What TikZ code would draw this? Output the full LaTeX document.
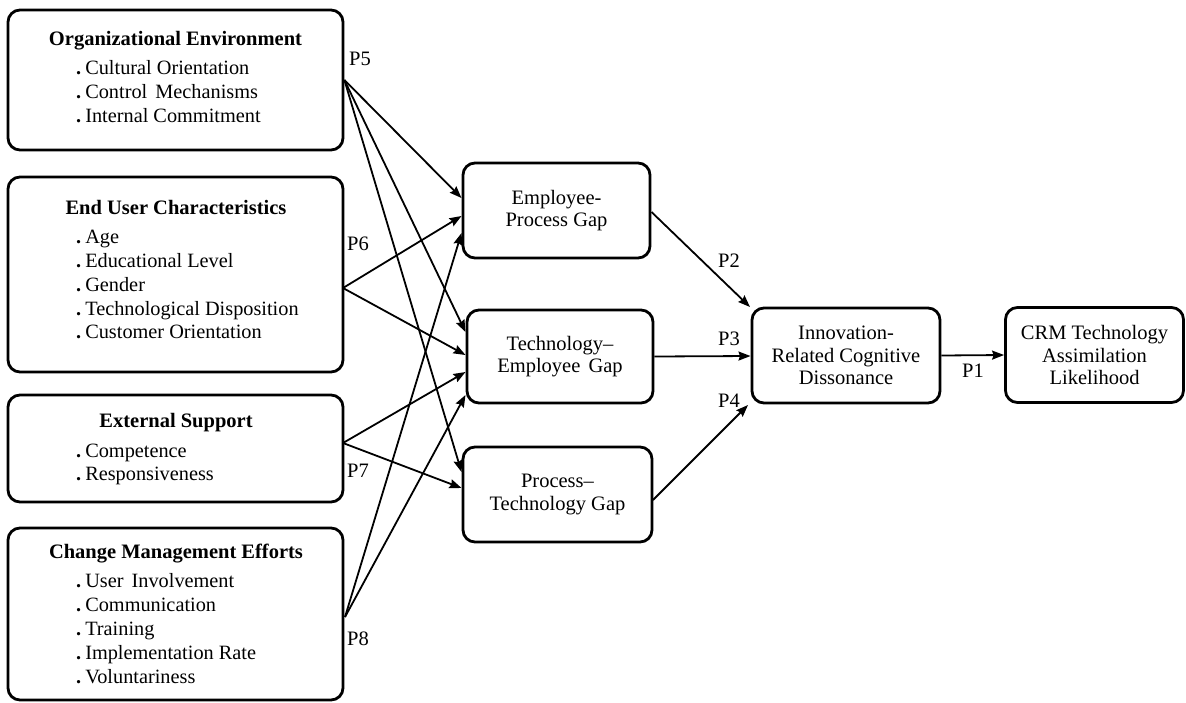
\documentclass[tikz,border=0pt]{standalone}
\usepackage{fontspec}
\setmainfont{Liberation Serif}
\usetikzlibrary{arrows.meta}
\begin{document}
\begin{tikzpicture}[x=1pt,y=-1pt,
 box/.style={draw,line width=2.8pt,rounded corners=12pt,inner sep=0pt},
 txt/.style={font=\fontsize{20.5}{22.5}\selectfont,align=center},
 ttl/.style={font=\fontsize{20.5}{24}\selectfont\bfseries,anchor=base,inner sep=0pt},
 itm/.style={font=\fontsize{20.3}{24}\selectfont,anchor=base west,inner sep=0pt},
 lab/.style={font=\fontsize{20.5}{24}\selectfont,anchor=base west,inner sep=0pt},
 arr/.style={line width=1.8pt,-{Stealth[length=12pt,width=9pt,inset=1.5pt]}},
]
\useasboundingbox (0,0) rectangle (1186,702);
\fill[white] (0,0) rectangle (1186,702);

% left boxes
\node[box,minimum width=335pt,minimum height=140pt] (org) at (175.5,80) {};
\node[box,minimum width=335pt,minimum height=195pt] (eu) at (175.5,274.5) {};
\node[box,minimum width=335pt,minimum height=107pt] (ext) at (175.5,448.5) {};
\node[box,minimum width=335pt,minimum height=172pt] (cm) at (175.5,614) {};

% left box texts
\node[ttl] (orgT) at (175.5,45) {Organizational Environment};
\node[itm] (org1) at (76,74) {\textbf{.}\hspace{4pt}Cultural Orientation};
\node[itm] (org2) at (76,98) {\textbf{.}\hspace{4pt}Control\hspace{3pt} Mechanisms};
\node[itm] (org3) at (76,122) {\textbf{.}\hspace{4pt}Internal Commitment};

\node[ttl] (euT) at (176,214) {End User Characteristics};
\node[itm] (eu1) at (76,243) {\textbf{.}\hspace{4pt}Age};
\node[itm] (eu2) at (76,267) {\textbf{.}\hspace{4pt}Educational Level};
\node[itm] (eu3) at (76,291) {\textbf{.}\hspace{4pt}Gender};
\node[itm] (eu4) at (76,315) {\textbf{.}\hspace{4pt}Technological Disposition};
\node[itm] (eu5) at (76,338) {\textbf{.}\hspace{4pt}Customer Orientation};

\node[ttl] (extT) at (176,427) {External Support};
\node[itm] (ext1) at (76,457) {\textbf{.}\hspace{4pt}Competence};
\node[itm] (ext2) at (76,480) {\textbf{.}\hspace{4pt}Responsiveness};

\node[ttl] (cmT) at (176,558) {Change Management Efforts};
\node[itm] (cm1) at (76,587) {\textbf{.}\hspace{4pt}User\hspace{3pt} Involvement};
\node[itm] (cm2) at (76,611) {\textbf{.}\hspace{4pt}Communication};
\node[itm] (cm3) at (76,635) {\textbf{.}\hspace{4pt}Training};
\node[itm] (cm4) at (76,659) {\textbf{.}\hspace{4pt}Implementation Rate};
\node[itm] (cm5) at (76,683) {\textbf{.}\hspace{4pt}Voluntariness};

% middle boxes
\node[box,txt,minimum width=187pt,minimum height=95pt] (ep) at (556.5,210.5) {Employee-\\Process Gap};
\node[box,txt,minimum width=186pt,minimum height=93pt] (te) at (560,356.5) {Technology--\\Employee\hspace{3pt} Gap};
\node[box,txt,minimum width=189pt,minimum height=95pt] (pt) at (557.5,494.5) {Process--\\Technology Gap};

% right boxes
\node[box,txt,minimum width=188pt,minimum height=95pt] (inn) at (846,355.5) {Innovation-\\Related Cognitive\\Dissonance};
\node[box,txt,minimum width=178pt,minimum height=95pt] (crm) at (1094.5,355) {CRM Technology\\Assimilation\\Likelihood};

% connector end points
\coordinate (euO) at (343,288);
\coordinate (extO) at (343,443);
\coordinate (cmO) at (345,617);
\coordinate (epA) at (461.5,198);
\coordinate (epB) at (461.5,216);
\coordinate (epC) at (461.5,233);
\coordinate (teA) at (465.5,332);
\coordinate (teB) at (465.5,355);
\coordinate (teC) at (465.5,372);
\coordinate (teD) at (465.5,395);
\coordinate (ptA) at (461.5,472);
\coordinate (ptB) at (461.5,488);
\coordinate (epO) at (651.5,212);
\coordinate (ptO) at (653,500);
\coordinate (innA) at (750,307);
\coordinate (innB) at (750.5,356);
\coordinate (innC) at (748,405);

% connectors
\draw[arr] (org.east) -- (epA);
\draw[arr] (org.east) -- (teA);
\draw[arr] (org.east) -- (ptA);
\draw[arr] (euO) -- (epB);
\draw[arr] (euO) -- (teB);
\draw[arr] (extO) -- (teC);
\draw[arr] (extO) -- (ptB);
\draw[arr] (cmO) -- (epC);
\draw[arr] (cmO) -- (teD);
\draw[arr] (epO) -- (innA);
\draw[arr] (te.east) -- (innB);
\draw[arr] (ptO) -- (innC);
\draw[arr] (inn.east) -- (crm.west);

% labels
\node[lab] (p5) at (349,65) {P5};
\node[lab] (p6) at (347,250) {P6};
\node[lab] (p7) at (347,477) {P7};
\node[lab] (p8) at (347,645) {P8};
\node[lab] (p2) at (718,267) {P2};
\node[lab] (p3) at (718,345) {P3};
\node[lab] (p4) at (718,407) {P4};
\node[lab] (p1) at (962,377) {P1};
\end{tikzpicture}
\end{document}
